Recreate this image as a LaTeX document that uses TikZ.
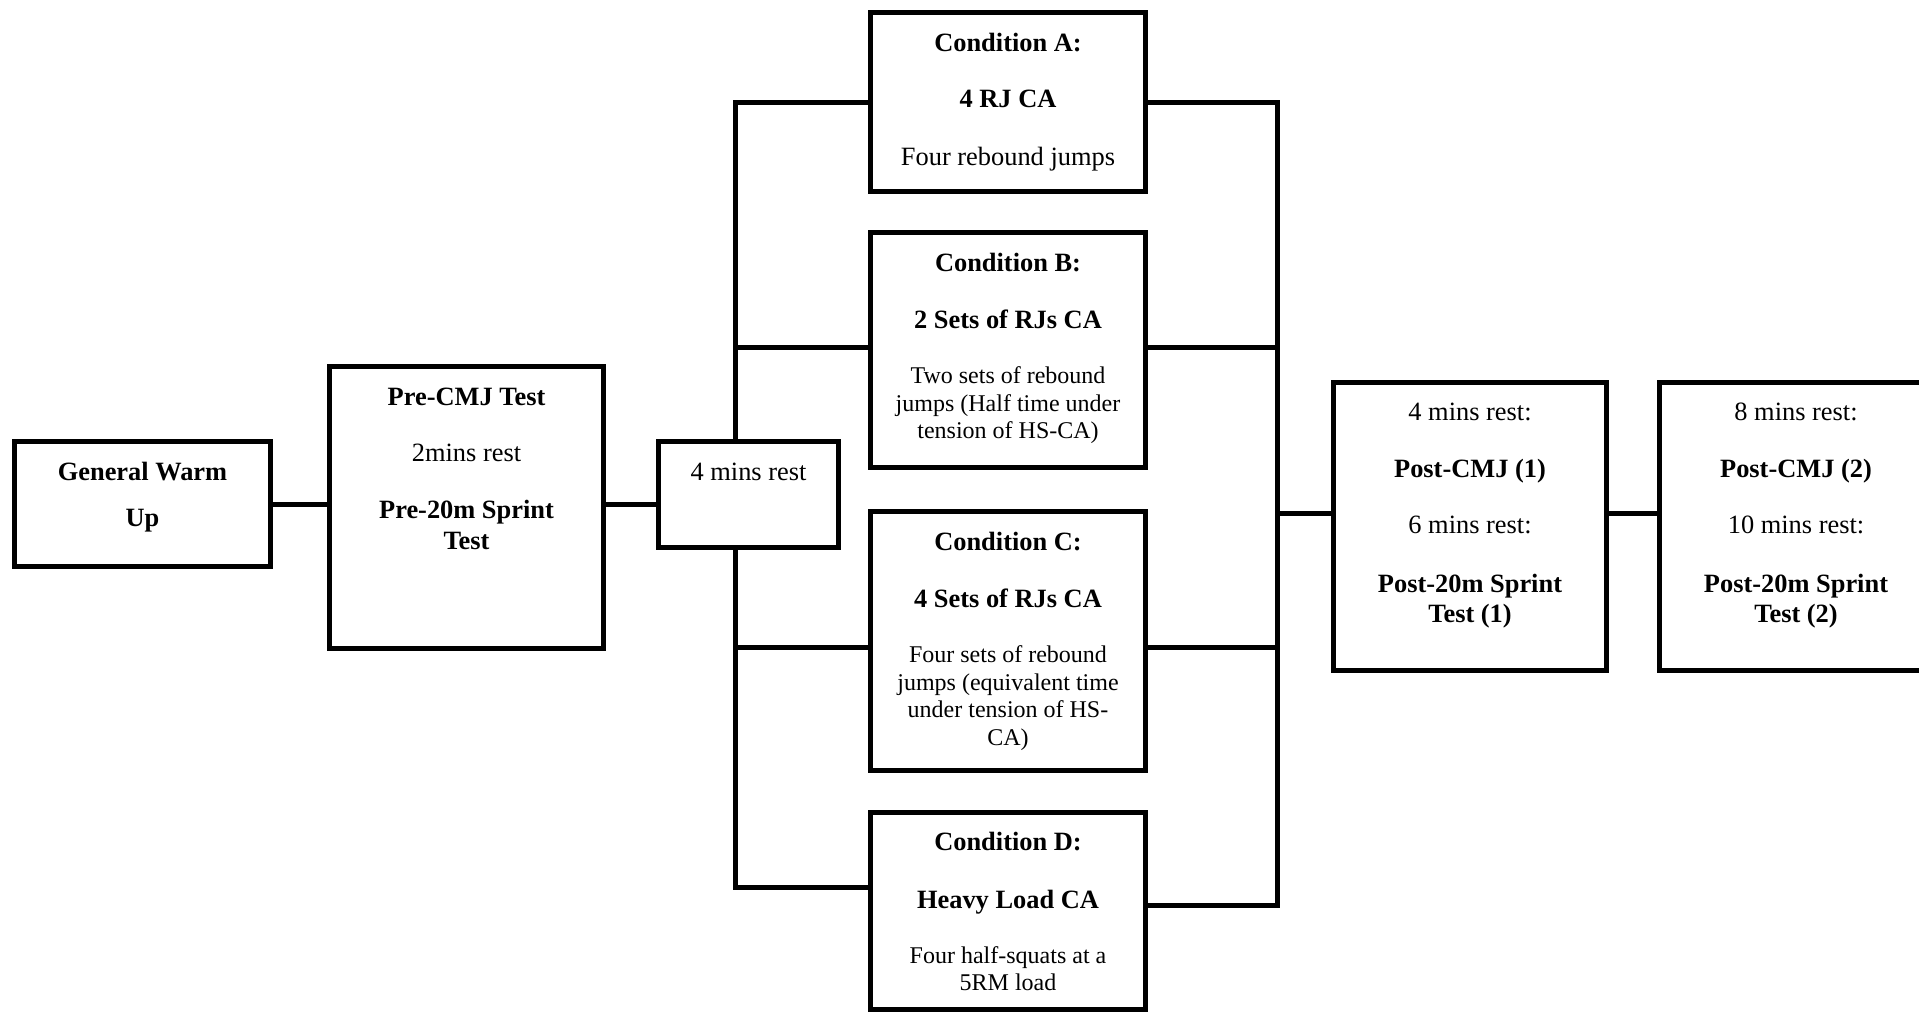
\documentclass[tikz,border=0pt]{standalone}
\usepackage{fontspec}
\setmainfont{Liberation Serif}
\begin{document}
\begin{tikzpicture}[x=1pt,y=-1pt,
  box/.style={draw, line width=5pt, inner sep=0pt},
  conn/.style={line width=5pt},
  tb/.style={anchor=base, inner sep=0pt, font=\fontsize{26.4}{30}\selectfont\bfseries},
  tr/.style={anchor=base, inner sep=0pt, font=\fontsize{26.4}{30}\selectfont},
  ts/.style={anchor=base, inner sep=0pt, font=\fontsize{24}{28}\selectfont}]
\clip (0,0) rectangle (1919,1013);
\fill[white] (0,0) rectangle (1919,1013);
% boxes
\node[box, minimum width=256pt, minimum height=125pt] (gwu) at (142.5,504) {};
\node[box, minimum width=274pt, minimum height=282pt] (pre) at (466.5,507.5) {};
\node[box, minimum width=180pt, minimum height=106pt] (rest) at (748.5,494.5) {};
\node[box, minimum width=275pt, minimum height=179pt] (ca) at (1008,102) {};
\node[box, minimum width=275pt, minimum height=235pt] (cb) at (1008,350) {};
\node[box, minimum width=275pt, minimum height=259pt] (cc) at (1008,641) {};
\node[box, minimum width=275pt, minimum height=197pt] (cd) at (1008,911) {};
\node[box, minimum width=273pt, minimum height=288pt] (p1) at (1470,526.5) {};
\node[box, minimum width=273pt, minimum height=288pt] (p2) at (1796,526.5) {};
% texts
\node[tb] (gwu1) at (142.5,480) {General Warm};
\node[tb] (gwu2) at (142.5,526) {Up};
\node[tb] (pre1) at (466.5,405) {Pre-CMJ Test};
\node[tr] (pre2) at (466.5,461) {2mins rest};
\node[tb] (pre3) at (466.5,518) {Pre-20m Sprint};
\node[tb] (pre4) at (466.5,549) {Test};
\node[tr] (rest1) at (748.5,480) {4 mins rest};
\node[tb] (ca1) at (1008,51) {Condition A:};
\node[tb] (ca2) at (1008,107) {4 RJ CA};
\node[tr] (ca3) at (1008,165) {Four rebound jumps};
\node[tb] (cb1) at (1008,271) {Condition B:};
\node[tb] (cb2) at (1008,328) {2 Sets of RJs CA};
\node[ts] (cb3) at (1008,383) {Two sets of rebound};
\node[ts] (cb4) at (1008,411) {jumps (Half time under};
\node[ts] (cb5) at (1008,438) {tension of HS-CA)};
\node[tb] (cc1) at (1008,550) {Condition C:};
\node[tb] (cc2) at (1008,607) {4 Sets of RJs CA};
\node[ts] (cc3) at (1008,662) {Four sets of rebound};
\node[ts] (cc4) at (1008,690) {jumps (equivalent time};
\node[ts] (cc5) at (1008,717) {under tension of HS-};
\node[ts] (cc6) at (1008,745) {CA)};
\node[tb] (cd1) at (1008,850) {Condition D:};
\node[tb] (cd2) at (1008,908) {Heavy Load CA};
\node[ts] (cd3) at (1008,963) {Four half-squats at a};
\node[ts] (cd4) at (1008,990) {5RM load};
\node[tr] (p11) at (1470,420) {4 mins rest:};
\node[tb] (p12) at (1470,477) {Post-CMJ (1)};
\node[tr] (p13) at (1470,533) {6 mins rest:};
\node[tb] (p14) at (1470,592) {Post-20m Sprint};
\node[tb] (p15) at (1470,622) {Test (1)};
\node[tr] (p21) at (1796,420) {8 mins rest:};
\node[tb] (p22) at (1796,477) {Post-CMJ (2)};
\node[tr] (p23) at (1796,533) {10 mins rest:};
\node[tb] (p24) at (1796,592) {Post-20m Sprint};
\node[tb] (p25) at (1796,622) {Test (2)};
% connectors
\coordinate (LT) at (735,0);
\coordinate (RT) at (1277,0);
\draw[conn] (gwu.east) -- (gwu.east -| pre.west);
\draw[conn] (pre.east |- gwu.east) -- (gwu.east -| rest.west);
\coordinate (bl) at ([yshift=3pt]cb.west);
\coordinate (cl) at ([yshift=-6pt]cc.west);
\coordinate (dl) at ([yshift=24pt]cd.west);
\draw[conn] (rest.north -| LT) |- (ca.west);
\draw[conn] (bl) -- (bl -| LT);
\draw[conn] (cl) -- (cl -| LT);
\draw[conn] (rest.south -| LT) |- (dl);
\coordinate (br) at ([yshift=3pt]cb.east);
\coordinate (cr) at ([yshift=-6pt]cc.east);
\coordinate (dr) at ([yshift=6pt]cd.east);
\draw[conn] (ca.east) -| (dr -| RT) -- (dr);
\draw[conn] (br) -- (br -| RT);
\draw[conn] (cr) -- (cr -| RT);
\coordinate (pl) at ([yshift=13.5pt]p1.west);
\draw[conn] (pl -| RT) -- (pl);
\draw[conn] (pl -| p1.east) -- (pl -| p2.west);
\end{tikzpicture}
\end{document}
